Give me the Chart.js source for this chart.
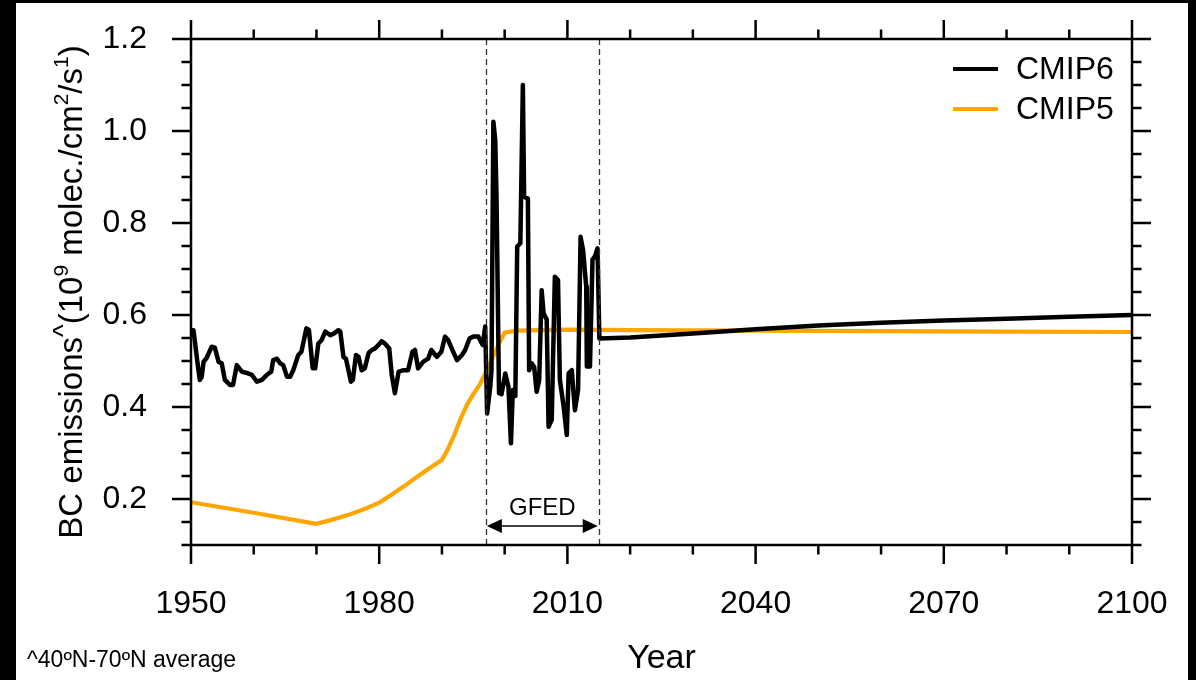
<!DOCTYPE html>
<html><head><meta charset="utf-8">
<script src="https://cdn.jsdelivr.net/npm/chart.js@4.4.0/dist/chart.umd.min.js"></script>
<style>html,body{margin:0;padding:0;background:#000;}canvas{display:block;}</style>
</head><body>
<canvas id="c" width="1196" height="680"></canvas>
<script>
// ---- data ----
const seriesNames = ['CMIP6', 'CMIP5'];
const cmip6Years = [1950.0,1950.4,1951.0,1951.4,1951.7,1952.0,1952.5,1953.3,1953.8,1954.4,1954.9,1955.4,1956.2,1956.7,1957.3,1958.1,1958.9,1959.7,1960.5,1961.3,1962.1,1962.8,1963.1,1963.7,1964.2,1964.7,1965.3,1965.8,1966.3,1967.1,1967.6,1968.4,1968.8,1969.4,1969.8,1970.3,1970.8,1971.4,1972.2,1972.8,1973.5,1973.8,1974.3,1974.7,1975.5,1975.8,1976.3,1976.7,1977.2,1977.7,1978.3,1978.8,1979.3,1979.9,1980.4,1980.9,1981.6,1982.0,1982.5,1983.1,1983.9,1984.6,1985.3,1985.7,1986.2,1987.0,1987.8,1988.3,1989.2,1989.9,1990.5,1991.0,1991.8,1992.4,1993.2,1993.7,1994.4,1995.0,1995.8,1996.5,1996.9,1997.2,1997.7,1997.9,1998.2,1998.5,1998.7,1999.1,1999.5,2000.1,2000.6,2001.0,2001.3,2001.7,2002.0,2002.5,2002.9,2003.1,2003.7,2003.9,2004.3,2004.7,2005.1,2005.5,2005.9,2006.2,2006.7,2007.0,2007.5,2008.0,2008.5,2008.8,2009.4,2009.9,2010.2,2010.7,2011.2,2011.7,2012.1,2012.5,2013.0,2013.1,2013.6,2014.0,2014.4,2014.8,2015.1,2020,2030,2040,2050,2060,2070,2080,2090,2100];
const cmip6Values = [0.567,0.567,0.500,0.459,0.465,0.498,0.507,0.531,0.529,0.498,0.495,0.459,0.448,0.448,0.491,0.477,0.474,0.470,0.455,0.459,0.470,0.477,0.502,0.505,0.495,0.491,0.466,0.466,0.480,0.513,0.520,0.571,0.567,0.484,0.484,0.538,0.545,0.564,0.556,0.560,0.567,0.564,0.509,0.505,0.455,0.459,0.513,0.509,0.480,0.484,0.517,0.524,0.527,0.535,0.543,0.538,0.527,0.470,0.430,0.477,0.480,0.480,0.520,0.524,0.484,0.498,0.505,0.524,0.509,0.520,0.553,0.545,0.520,0.502,0.513,0.524,0.549,0.553,0.553,0.535,0.575,0.386,0.444,0.480,1.020,0.980,0.857,0.430,0.428,0.473,0.444,0.321,0.437,0.424,0.749,0.756,1.100,0.857,0.853,0.480,0.495,0.487,0.433,0.458,0.654,0.604,0.590,0.357,0.372,0.683,0.676,0.459,0.401,0.339,0.473,0.480,0.393,0.437,0.770,0.741,0.662,0.488,0.488,0.720,0.728,0.745,0.549,0.551,0.560,0.569,0.577,0.583,0.588,0.592,0.596,0.600];
const cmip5Years = [1950,1960,1970,1972,1975,1978,1980,1982,1984,1986,1988,1990,1991,1992,1993,1994,1995,1996,1997,1998,1999,2000,2002,2010,2020,2040,2060,2080,2100];
const cmip5Values = [0.193,0.170,0.146,0.153,0.165,0.180,0.192,0.210,0.228,0.248,0.267,0.285,0.310,0.340,0.375,0.405,0.428,0.448,0.475,0.505,0.535,0.562,0.566,0.568,0.567,0.566,0.565,0.564,0.563];
const xMajorTicks = [1950, 1980, 2010, 2040, 2070, 2100];
const yMajorTicks = [0.2, 0.4, 0.6, 0.8, 1.0, 1.2];
const gfedPeriod = [1997, 2015];
const gfedLabel = 'GFED';
const xTitle = 'Year';
const footnote = '^40\u00baN-70\u00baN average';

const FONT = '"Liberation Sans", Arial, Helvetica, sans-serif';

function pts(xs, ys) { return xs.map((x, i) => ({x: x, y: ys[i]})); }

const decor = {
  id: 'decor',
  beforeDraw(chart) {
    const ctx = chart.ctx;
    ctx.save();
    ctx.fillStyle = '#000';
    ctx.fillRect(0, 0, chart.width, chart.height);
    ctx.fillStyle = '#fff';
    ctx.fillRect(16, 3, 1172, 677);
    ctx.restore();
  },
  afterDatasetsDraw(chart) {
    const ctx = chart.ctx;
    const a = chart.chartArea;
    const xs = chart.scales.x, ys = chart.scales.y;
    ctx.save();
    // GFED dashed lines
    ctx.strokeStyle = '#333';
    ctx.lineWidth = 1.3;
    ctx.setLineDash([6, 4]);
    gfedPeriod.forEach(yr => {
      const px = Math.round(xs.getPixelForValue(yr)) + 0.5;
      ctx.beginPath(); ctx.moveTo(px, a.top); ctx.lineTo(px, a.bottom); ctx.stroke();
    });
    ctx.setLineDash([]);
    // double arrow
    const x1 = xs.getPixelForValue(gfedPeriod[0]), x2 = xs.getPixelForValue(gfedPeriod[1]);
    const ay = 526;
    ctx.strokeStyle = '#000'; ctx.fillStyle = '#000'; ctx.lineWidth = 1.5;
    ctx.beginPath(); ctx.moveTo(x1 + 10, ay); ctx.lineTo(x2 - 10, ay); ctx.stroke();
    ctx.beginPath(); ctx.moveTo(x1 + 1, ay); ctx.lineTo(x1 + 16, ay - 7); ctx.lineTo(x1 + 16, ay + 7); ctx.closePath(); ctx.fill();
    ctx.beginPath(); ctx.moveTo(x2 - 1, ay); ctx.lineTo(x2 - 16, ay - 7); ctx.lineTo(x2 - 16, ay + 7); ctx.closePath(); ctx.fill();
    ctx.font = '24px ' + FONT; ctx.textAlign = 'center'; ctx.textBaseline = 'alphabetic';
    ctx.fillText(gfedLabel, (x1 + x2) / 2, 515);
    // frame
    ctx.lineWidth = 2.5; ctx.strokeStyle = '#000';
    ctx.strokeRect(a.left, a.top, a.right - a.left, a.bottom - a.top);
    // x ticks
    xs.ticks.forEach(t => {
      const px = xs.getPixelForValue(t.value);
      const major = xMajorTicks.includes(t.value);
      const len = major ? 19 : 9.5;
      ctx.beginPath();
      ctx.moveTo(px, a.bottom); ctx.lineTo(px, a.bottom + len);
      ctx.moveTo(px, a.top); ctx.lineTo(px, a.top - len);
      ctx.stroke();
    });
    ys.ticks.forEach(t => {
      const py = ys.getPixelForValue(t.value);
      const major = yMajorTicks.some(m => Math.abs(m - t.value) < 1e-6);
      const len = major ? 19 : 9.5;
      ctx.beginPath();
      ctx.moveTo(a.left, py); ctx.lineTo(a.left - len, py);
      ctx.moveTo(a.right, py); ctx.lineTo(a.right + len, py);
      ctx.stroke();
    });
    // legend
    const colors = chart.data.datasets.map(d => d.borderColor);
    ctx.font = '32px ' + FONT; ctx.textAlign = 'left'; ctx.textBaseline = 'middle';
    chart.data.datasets.forEach((d, i) => {
      const ly = 69 + i * 40;
      ctx.strokeStyle = colors[i]; ctx.lineWidth = 4; ctx.lineCap = 'butt';
      ctx.beginPath(); ctx.moveTo(953, ly); ctx.lineTo(998, ly); ctx.stroke();
      ctx.fillStyle = '#000';
      ctx.fillText(d.label, 1016, ly + 1);
    });
    // x title
    ctx.textAlign = 'center'; ctx.textBaseline = 'alphabetic';
    ctx.font = '34px ' + FONT;
    ctx.fillText(xTitle, (a.left + a.right) / 2, 668);
    // footnote
    ctx.textAlign = 'left';
    ctx.font = '23px ' + FONT;
    ctx.fillText(footnote, 27, 667);
    // y title with superscripts
    const parts = [
      {t: 'BC emissions', s: false}, {t: '^', s: true, caret: true}, {t: '(10', s: false},
      {t: '9', s: true}, {t: ' molec./cm', s: false}, {t: '2', s: true},
      {t: '/s', s: false}, {t: '1', s: true}, {t: ')', s: false}
    ];
    const mainF = '33px ' + FONT, supF = '21px ' + FONT, caretF = '27px ' + FONT;
    let total = 0;
    parts.forEach(p => {
      ctx.font = p.caret ? caretF : (p.s ? supF : mainF);
      p.w = ctx.measureText(p.t).width;
      total += p.w;
    });
    ctx.translate(82, 292);
    ctx.rotate(-Math.PI / 2);
    ctx.textAlign = 'left'; ctx.textBaseline = 'alphabetic'; ctx.fillStyle = '#000';
    let cx = -total / 2;
    parts.forEach(p => {
      ctx.font = p.caret ? caretF : (p.s ? supF : mainF);
      ctx.fillText(p.t, cx, p.caret ? -10 : (p.s ? -14 : 0));
      cx += p.w;
    });
    ctx.restore();
  }
};

new Chart(document.getElementById('c'), {
  type: 'line',
  data: {
    datasets: [
      {label: seriesNames[0], data: pts(cmip6Years, cmip6Values), borderColor: '#000000', borderWidth: 4.5, pointRadius: 0, tension: 0, borderJoinStyle: 'round', borderCapStyle: 'round'},
      {label: seriesNames[1], data: pts(cmip5Years, cmip5Values), borderColor: '#FFA500', borderWidth: 4.2, pointRadius: 0, tension: 0, borderJoinStyle: 'round', borderCapStyle: 'round'}
    ]
  },
  options: {
    responsive: false,
    animation: false,
    devicePixelRatio: 1,
    layout: {padding: {left: 0, top: 39, right: 64, bottom: 0}},
    plugins: {legend: {display: false}, tooltip: {enabled: false}, title: {display: false}},
    scales: {
      x: {
        type: 'linear', min: 1950, max: 2100,
        grid: {display: false, drawTicks: true, tickLength: 40},
        border: {display: false},
        afterBuildTicks(s) { const t = []; for (let v = 1950; v <= 2100; v += 10) t.push({value: v}); s.ticks = t; },
        afterFit(s) { s.height = 135; },
        ticks: {
          autoSkip: false, maxRotation: 0, minRotation: 0, padding: 0, color: '#000',
          font: {family: FONT, size: 32},
          callback: v => xMajorTicks.includes(v) ? String(v) : ''
        }
      },
      y: {
        type: 'linear', min: 0.1, max: 1.2,
        grid: {display: false, drawTicks: true, tickLength: 44},
        border: {display: false},
        afterBuildTicks(s) { const t = []; for (let k = 10; k <= 120; k += 5) t.push({value: k / 100}); s.ticks = t; },
        afterFit(s) { s.width = 191; },
        ticks: {
          autoSkip: false, padding: 0, color: '#000',
          font: {family: FONT, size: 32},
          callback: v => yMajorTicks.some(m => Math.abs(m - v) < 1e-6) ? v.toFixed(1) : ''
        }
      }
    }
  },
  plugins: [decor]
});
</script>
</body></html>
